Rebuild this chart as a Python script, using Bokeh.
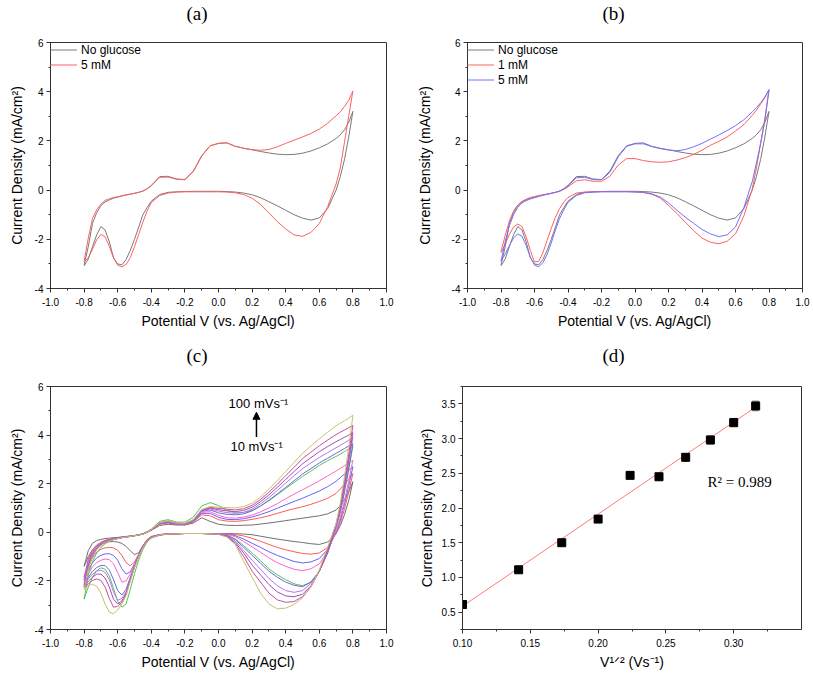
import numpy as np
from bokeh.plotting import figure
from bokeh.layouts import column, row
from bokeh.models import (SingleIntervalTicker, NumeralTickFormatter, Legend, LegendItem, LinearAxis, Title,
                          FixedTicker, CustomJSTickFormatter, Label, Arrow, NormalHead, Whisker,
                          ColumnDataSource, TeeHead, Range1d)
from bokeh.embed import file_html
from bokeh.resources import INLINE

# ---------------- data ----------------
potential = [-0.8, -0.775, -0.75, -0.725, -0.7, -0.675, -0.65, -0.625, -0.6, -0.575, -0.55, -0.525,
             -0.5, -0.475, -0.45, -0.425, -0.4, -0.35, -0.3, -0.25, -0.2, -0.15, -0.1, -0.05, 0.0,
             0.05, 0.1, 0.15, 0.2, 0.25, 0.3, 0.35, 0.4, 0.45, 0.5, 0.55, 0.6, 0.65, 0.7, 0.725,
             0.75, 0.775, 0.8]

# panels (a)/(b): forward (anodic) and reverse (cathodic) sweep currents on the potential grid
noglu_fwd = [-3.05, -2.30, -1.35, -0.92, -0.63, -0.48, -0.40, -0.33, -0.29, -0.24, -0.20, -0.17, -0.13, -0.09, -0.04, 0.06, 0.19,
             0.55, 0.56, 0.45, 0.43, 0.77, 1.40, 1.80, 1.90,
             1.92, 1.78, 1.70, 1.64, 1.57, 1.51, 1.46, 1.44, 1.45, 1.50, 1.59, 1.72, 1.88, 2.10, 2.25, 2.45, 2.75, 3.20]
noglu_rev = [-3.08, -2.80, -2.30, -1.82, -1.48, -1.62, -2.10, -2.75, -3.00, -3.04, -2.82, -2.45, -2.00, -1.50, -1.00, -0.71, -0.45,
             -0.18, -0.09, -0.07, -0.06, -0.05, -0.05, -0.05, -0.05,
             -0.06, -0.08, -0.12, -0.19, -0.31, -0.47, -0.64, -0.82, -1.00, -1.14, -1.22, -1.13, -0.75, 0.00, 0.55, 1.25, 2.15, 3.20]
a5_fwd = [-2.90, -1.95, -1.15, -0.80, -0.57, -0.42, -0.35, -0.30, -0.27, -0.23, -0.19, -0.16, -0.13, -0.09, -0.04, 0.05, 0.17,
          0.52, 0.53, 0.44, 0.42, 0.75, 1.38, 1.80, 1.90,
          1.92, 1.78, 1.70, 1.64, 1.62, 1.65, 1.76, 1.90, 2.03, 2.16, 2.30, 2.48, 2.72, 3.02, 3.18, 3.40, 3.65, 4.03]
a5_rev = [-2.92, -2.75, -2.40, -2.02, -1.80, -1.90, -2.28, -2.75, -3.05, -3.12, -3.02, -2.75, -2.30, -1.80, -1.30, -0.85, -0.50,
          -0.22, -0.12, -0.08, -0.07, -0.07, -0.07, -0.07, -0.07,
          -0.08, -0.11, -0.18, -0.33, -0.58, -0.93, -1.28, -1.58, -1.82, -1.88, -1.72, -1.36, -0.67, 0.25, 0.90, 1.95, 3.00, 4.03]
b1_fwd = [-2.50, -1.85, -1.25, -0.85, -0.60, -0.46, -0.37, -0.30, -0.26, -0.22, -0.19, -0.16, -0.13, -0.09, -0.05, 0.03, 0.13,
          0.38, 0.42, 0.36, 0.36, 0.56, 1.02, 1.28, 1.28,
          1.20, 1.15, 1.13, 1.15, 1.22, 1.32, 1.45, 1.62, 1.82, 1.98, 2.16, 2.40, 2.66, 3.04, 3.25, 3.50, 3.75, 4.08]
b1_rev = [-2.55, -2.20, -1.80, -1.50, -1.38, -1.48, -1.90, -2.45, -2.92, -2.90, -2.55, -2.05, -1.55, -1.10, -0.75, -0.48, -0.30,
          -0.12, -0.08, -0.07, -0.06, -0.06, -0.06, -0.06, -0.07,
          -0.10, -0.17, -0.32, -0.62, -0.95, -1.30, -1.65, -1.95, -2.12, -2.18, -2.08, -1.78, -1.05, 0.05, 0.90, 1.90, 2.90, 4.08]
b5_fwd = [-2.89, -2.10, -1.45, -1.00, -0.70, -0.52, -0.43, -0.36, -0.31, -0.26, -0.21, -0.17, -0.13, -0.09, -0.04, 0.05, 0.17,
          0.50, 0.52, 0.43, 0.42, 0.72, 1.35, 1.78, 1.88,
          1.88, 1.77, 1.69, 1.63, 1.60, 1.65, 1.76, 1.90, 2.07, 2.24, 2.42, 2.62, 2.86, 3.18, 3.35, 3.55, 3.78, 4.08]
b5_rev = [-2.89, -2.60, -2.25, -1.95, -1.78, -1.88, -2.25, -2.72, -3.05, -3.12, -2.95, -2.62, -2.15, -1.62, -1.15, -0.80, -0.50,
          -0.22, -0.11, -0.08, -0.07, -0.07, -0.07, -0.07, -0.08,
          -0.09, -0.15, -0.28, -0.52, -0.82, -1.10, -1.35, -1.60, -1.78, -1.89, -1.82, -1.50, -0.71, 0.35, 1.10, 1.90, 2.80, 4.08]

# panel (c): scan rates 10..100 mV/s
scan_rates = [10, 20, 30, 40, 50, 60, 70, 80, 90, 100]
c10_fwd = [-1.40, -0.75, -0.45, -0.34, -0.29, -0.26, -0.24, -0.22, -0.21, -0.19, -0.17, -0.15, -0.13, -0.10, -0.06, 0.00, 0.08,
           0.28, 0.33, 0.30, 0.30, 0.38, 0.60, 0.45, 0.33, 0.29,
           0.28, 0.29, 0.30, 0.34, 0.38, 0.43, 0.48, 0.53, 0.58, 0.63, 0.68, 0.76, 0.92, 1.10, 1.35, 1.65, 2.08]
c10_rev = [-1.40, -1.00, -0.72, -0.56, -0.47, -0.42, -0.39, -0.38, -0.40, -0.46, -0.58, -0.76, -0.92, -0.84, -0.55, -0.30, -0.17,
           -0.09, -0.06, -0.05, -0.05, -0.05, -0.05, -0.05, -0.05,
           -0.05, -0.06, -0.07, -0.10, -0.16, -0.22, -0.28, -0.33, -0.38, -0.42, -0.47, -0.50, -0.40, -0.05, 0.28, 0.72, 1.30, 2.08]
c20_fwd = [-1.85, -1.10, -0.72, -0.52, -0.40, -0.33, -0.28, -0.25, -0.23, -0.20, -0.18, -0.16, -0.14, -0.11, -0.07, 0.00, 0.09,
           0.33, 0.38, 0.32, 0.31, 0.42, 0.72, 0.68, 0.52, 0.46,
           0.45, 0.48, 0.53, 0.60, 0.68, 0.78, 0.88, 0.97, 1.05, 1.15, 1.27, 1.40, 1.60, 1.78, 1.98, 2.18, 2.42]
c20_rev = [-1.85, -1.40, -1.05, -0.82, -0.70, -0.64, -0.62, -0.64, -0.74, -0.95, -1.25, -1.38, -1.22, -0.90, -0.55, -0.32, -0.19,
           -0.10, -0.07, -0.06, -0.05, -0.05, -0.05, -0.05, -0.05,
           -0.06, -0.09, -0.15, -0.25, -0.37, -0.50, -0.62, -0.72, -0.80, -0.87, -0.90, -0.85, -0.62, -0.05, 0.40, 0.95, 1.65, 2.42]
c30_fwd = [-1.95, -1.20, -0.80, -0.58, -0.45, -0.36, -0.30, -0.26, -0.23, -0.21, -0.18, -0.16, -0.14, -0.11, -0.07, 0.00, 0.09,
           0.35, 0.40, 0.33, 0.32, 0.44, 0.78, 0.78, 0.62, 0.53,
           0.52, 0.56, 0.63, 0.73, 0.85, 0.99, 1.13, 1.27, 1.40, 1.55, 1.70, 1.88, 2.10, 2.25, 2.40, 2.55, 2.70]
c30_rev = [-1.95, -1.55, -1.25, -1.05, -0.95, -0.89, -0.88, -0.95, -1.15, -1.50, -1.72, -1.62, -1.30, -0.92, -0.57, -0.33, -0.20,
           -0.10, -0.07, -0.06, -0.05, -0.05, -0.05, -0.05, -0.06,
           -0.07, -0.14, -0.28, -0.45, -0.62, -0.80, -0.95, -1.08, -1.20, -1.26, -1.22, -1.08, -0.70, 0.00, 0.50, 1.15, 1.90, 2.70]
c40_fwd = [-2.05, -1.28, -0.86, -0.62, -0.48, -0.38, -0.31, -0.27, -0.24, -0.21, -0.19, -0.17, -0.14, -0.11, -0.07, 0.00, 0.10,
           0.36, 0.41, 0.34, 0.33, 0.46, 0.82, 0.85, 0.70, 0.60,
           0.58, 0.63, 0.71, 0.84, 1.00, 1.18, 1.38, 1.57, 1.75, 1.93, 2.12, 2.32, 2.52, 2.63, 2.74, 2.85, 2.97]
c40_rev = [-2.05, -1.70, -1.42, -1.25, -1.15, -1.10, -1.12, -1.30, -1.65, -2.05, -2.00, -1.70, -1.32, -0.94, -0.58, -0.34, -0.20,
           -0.10, -0.07, -0.06, -0.05, -0.05, -0.05, -0.06, -0.06,
           -0.08, -0.18, -0.38, -0.60, -0.82, -1.05, -1.25, -1.40, -1.52, -1.58, -1.50, -1.30, -0.80, 0.05, 0.60, 1.30, 2.10, 2.97]
c50_fwd = [-2.75, -1.75, -1.20, -0.85, -0.62, -0.47, -0.37, -0.30, -0.26, -0.22, -0.19, -0.16, -0.13, -0.10, -0.05, 0.03, 0.13,
           0.45, 0.52, 0.42, 0.42, 0.62, 1.08, 1.22, 1.10, 0.92,
           0.80, 0.82, 0.90, 1.08, 1.30, 1.55, 1.80, 2.05, 2.30, 2.52, 2.75, 2.95, 3.12, 3.22, 3.32, 3.43, 3.55]
c50_rev = [-2.75, -2.25, -1.85, -1.58, -1.46, -1.52, -1.80, -2.30, -2.85, -3.08, -2.95, -2.35, -1.70, -1.15, -0.70, -0.40, -0.24,
           -0.12, -0.08, -0.06, -0.05, -0.05, -0.05, -0.06, -0.07,
           -0.11, -0.27, -0.55, -0.85, -1.17, -1.50, -1.75, -1.95, -2.12, -2.20, -2.05, -1.60, -0.85, 0.20, 0.80, 1.65, 2.55, 3.55]
c60_fwd = [-2.15, -1.35, -0.90, -0.65, -0.50, -0.40, -0.33, -0.28, -0.24, -0.21, -0.19, -0.17, -0.14, -0.11, -0.07, 0.00, 0.10,
           0.37, 0.43, 0.35, 0.34, 0.48, 0.86, 0.92, 0.80, 0.74,
           0.72, 0.76, 0.88, 1.08, 1.32, 1.58, 1.85, 2.12, 2.40, 2.62, 2.85, 3.05, 3.25, 3.35, 3.45, 3.55, 3.65]
c60_rev = [-2.15, -1.85, -1.60, -1.45, -1.36, -1.37, -1.55, -1.95, -2.40, -2.58, -2.35, -1.85, -1.38, -0.96, -0.59, -0.35, -0.21,
           -0.10, -0.07, -0.06, -0.05, -0.05, -0.05, -0.06, -0.07,
           -0.12, -0.30, -0.62, -0.95, -1.27, -1.60, -1.85, -2.05, -2.18, -2.24, -2.05, -1.60, -0.85, 0.20, 0.85, 1.70, 2.65, 3.65]
c70_fwd = [-2.20, -1.40, -0.93, -0.67, -0.51, -0.41, -0.34, -0.29, -0.25, -0.22, -0.19, -0.17, -0.14, -0.11, -0.07, 0.00, 0.10,
           0.38, 0.44, 0.36, 0.35, 0.49, 0.88, 0.96, 0.87, 0.81,
           0.78, 0.82, 0.95, 1.17, 1.43, 1.72, 2.02, 2.33, 2.62, 2.85, 3.08, 3.28, 3.48, 3.58, 3.68, 3.79, 3.90]
c70_rev = [-2.20, -1.92, -1.72, -1.60, -1.56, -1.65, -1.95, -2.45, -2.80, -2.72, -2.45, -1.92, -1.40, -0.97, -0.60, -0.35, -0.21,
           -0.10, -0.07, -0.06, -0.05, -0.05, -0.05, -0.06, -0.07,
           -0.14, -0.36, -0.75, -1.15, -1.52, -1.90, -2.20, -2.40, -2.47, -2.40, -2.10, -1.60, -0.80, 0.25, 0.95, 1.85, 2.85, 3.90]
c80_fwd = [-2.25, -1.45, -0.96, -0.69, -0.52, -0.42, -0.35, -0.29, -0.25, -0.22, -0.19, -0.17, -0.14, -0.11, -0.07, 0.00, 0.10,
           0.38, 0.45, 0.37, 0.36, 0.50, 0.90, 1.00, 0.93, 0.88,
           0.85, 0.90, 1.03, 1.26, 1.54, 1.85, 2.18, 2.50, 2.82, 3.07, 3.32, 3.53, 3.73, 3.82, 3.91, 4.00, 4.10]
c80_rev = [-2.25, -2.02, -1.85, -1.72, -1.72, -1.88, -2.25, -2.75, -2.95, -2.82, -2.50, -1.95, -1.42, -0.98, -0.61, -0.36, -0.22,
           -0.11, -0.07, -0.06, -0.05, -0.05, -0.05, -0.06, -0.08,
           -0.16, -0.42, -0.85, -1.35, -1.75, -2.15, -2.45, -2.62, -2.65, -2.55, -2.20, -1.60, -0.75, 0.30, 1.00, 1.95, 3.00, 4.10]
c90_fwd = [-2.30, -1.48, -0.98, -0.70, -0.53, -0.42, -0.35, -0.30, -0.26, -0.22, -0.20, -0.17, -0.14, -0.11, -0.07, 0.00, 0.10,
           0.39, 0.46, 0.37, 0.36, 0.51, 0.92, 1.03, 0.98, 0.95,
           0.92, 0.97, 1.11, 1.35, 1.65, 1.98, 2.33, 2.68, 3.03, 3.30, 3.56, 3.80, 4.02, 4.12, 4.21, 4.30, 4.40]
c90_rev = [-2.30, -2.12, -1.98, -1.92, -1.98, -2.25, -2.72, -3.08, -3.05, -2.88, -2.55, -1.98, -1.44, -0.99, -0.62, -0.36, -0.22,
           -0.11, -0.07, -0.06, -0.05, -0.05, -0.05, -0.06, -0.08,
           -0.18, -0.48, -1.00, -1.60, -2.05, -2.50, -2.78, -2.88, -2.85, -2.65, -2.25, -1.60, -0.70, 0.35, 1.10, 2.10, 3.20, 4.40]
c100_fwd = [-2.35, -1.50, -1.00, -0.72, -0.54, -0.43, -0.36, -0.30, -0.26, -0.22, -0.20, -0.17, -0.14, -0.11, -0.07, 0.00, 0.10,
            0.40, 0.47, 0.38, 0.37, 0.52, 0.94, 1.06, 1.03, 1.02,
            1.00, 1.06, 1.20, 1.45, 1.78, 2.13, 2.50, 2.88, 3.25, 3.55, 3.85, 4.12, 4.38, 4.49, 4.59, 4.70, 4.82]
c100_rev = [-2.35, -2.20, -2.14, -2.22, -2.50, -2.95, -3.28, -3.35, -3.20, -2.95, -2.60, -2.02, -1.46, -1.00, -0.63, -0.37, -0.23,
            -0.11, -0.07, -0.06, -0.05, -0.05, -0.05, -0.06, -0.08,
            -0.20, -0.50, -1.20, -1.85, -2.50, -2.95, -3.15, -3.12, -2.97, -2.70, -2.25, -1.55, -0.60, 0.35, 1.20, 2.30, 3.50, 4.80]
c_fwd = [c10_fwd, c20_fwd, c30_fwd, c40_fwd, c50_fwd, c60_fwd, c70_fwd, c80_fwd, c90_fwd, c100_fwd]
c_rev = [c10_rev, c20_rev, c30_rev, c40_rev, c50_rev, c60_rev, c70_rev, c80_rev, c90_rev, c100_rev]
c_colors = ["#707070", "#ff5a5a", "#6464ff", "#ff64c8", "#5ac05a", "#6a6ae0", "#b478e6", "#a050b4", "#c8509a", "#c8c070"]

# panel (d)
sqrt_scan = [0.1, 0.1414, 0.1732, 0.2, 0.2236, 0.2449, 0.2646, 0.2828, 0.3, 0.3162]
peak_current = [0.61, 1.11, 1.50, 1.84, 2.47, 2.45, 2.73, 2.98, 3.23, 3.47]
peak_err = [0.03, 0.03, 0.03, 0.04, 0.04, 0.05, 0.05, 0.06, 0.06, 0.07]

SANS = "Liberation Sans"
SERIF = "Liberation Serif"
YLAB = "Current Density (mA/cm\u00b2)"
XLAB = "Potential V (vs. Ag/AgCl)"


def loop(fwd, rev):
    xs = list(potential) + list(potential[::-1])
    ys = list(fwd) + list(rev[::-1])
    return xs, ys


def make_fig(title, title_offset, spacer, width, height, xr, yr, borders, ylab_standoff,
             xint, yint, xfmt, yfmt, xlabel):
    l, r, t, b = borders
    p = figure(width=width, height=height, x_range=Range1d(*xr), y_range=Range1d(*yr),
               output_backend="svg", toolbar_location=None,
               min_border_left=l, min_border_right=r, min_border_top=t, min_border_bottom=b)
    # invisible spacer axis between the frame and the panel title
    sp = LinearAxis(ticker=FixedTicker(ticks=[(xr[0] + xr[1]) / 2], minor_ticks=[]),
                    formatter=CustomJSTickFormatter(code="return ''"),
                    axis_line_color=None, major_tick_line_color=None, minor_tick_line_color=None,
                    major_tick_out=spacer, major_tick_in=0, minor_tick_out=0, minor_tick_in=0,
                    major_label_standoff=0, major_label_text_font_size="1px")
    p.add_layout(sp, "above")
    p.add_layout(Title(text=title, align="left", offset=title_offset, standoff=0,
                       text_font=SERIF, text_font_size="19px", text_font_style="normal",
                       text_color="black"), "above")
    p.grid.visible = False
    p.outline_line_color = "#333333"
    p.outline_line_width = 1
    p.background_fill_color = "white"
    p.border_fill_color = "white"
    xa, ya = p.below[0], p.left[0]
    xa.ticker = SingleIntervalTicker(interval=xint, num_minor_ticks=2)
    ya.ticker = SingleIntervalTicker(interval=yint, num_minor_ticks=2)
    xa.formatter = NumeralTickFormatter(format=xfmt)
    ya.formatter = NumeralTickFormatter(format=yfmt)
    xa.axis_label = xlabel
    ya.axis_label = YLAB
    for ax in (xa, ya):
        ax.axis_line_color = "#333333"
        ax.major_tick_line_color = "#333333"
        ax.minor_tick_line_color = "#333333"
        ax.major_tick_out = 4
        ax.major_tick_in = 0
        ax.minor_tick_out = 2
        ax.minor_tick_in = 0
        ax.major_label_text_font = SANS
        ax.major_label_text_font_size = "10px"
        ax.major_label_text_color = "black"
        ax.axis_label_text_font = SANS
        ax.axis_label_text_font_size = "14px"
        ax.axis_label_text_font_style = "normal"
        ax.axis_label_text_color = "black"
    xa.major_label_standoff = 5
    xa.axis_label_standoff = 4
    ya.major_label_standoff = 3
    ya.axis_label_standoff = ylab_standoff
    return p


def add_legend(p, items):
    lg = Legend(items=items, location="top_left")
    lg.border_line_color = None
    lg.background_fill_alpha = 0
    lg.label_text_font = SANS
    lg.label_text_font_size = "12px"
    lg.label_text_color = "black"
    lg.glyph_width = 27
    lg.glyph_height = 15
    lg.label_height = 15
    lg.spacing = 0
    lg.padding = 7
    lg.margin = 0
    lg.label_standoff = 4
    p.add_layout(lg)


# ---------------- (a) ----------------
pa = make_fig("(a)", 136, 19, 408, 333, (-1, 1), (-4, 6), (50, 22, 42, 45), 7, 0.2, 2, "0.0", "0", XLAB)
xs, ys = loop(noglu_fwd, noglu_rev)
ra1 = pa.line(xs, ys, line_color="#7a7a7a", line_width=1)
xs, ys = loop(a5_fwd, a5_rev)
ra2 = pa.line(xs, ys, line_color="#ff6060", line_width=1)
add_legend(pa, [LegendItem(label="No glucose", renderers=[ra1]),
                LegendItem(label="5 mM", renderers=[ra2])])

# ---------------- (b) ----------------
pb = make_fig("(b)", 135, 19, 405, 333, (-1, 1), (-4, 6), (59, 11, 42, 45), 16, 0.2, 2, "0.0", "0", XLAB)
xs, ys = loop(noglu_fwd, noglu_rev)
rb1 = pb.line(xs, ys, line_color="#7a7a7a", line_width=1)
xs, ys = loop(b1_fwd, b1_rev)
rb2 = pb.line(xs, ys, line_color="#ff6060", line_width=1)
xs, ys = loop(b5_fwd, b5_rev)
rb3 = pb.line(xs, ys, line_color="#7070ff", line_width=1)
add_legend(pb, [LegendItem(label="No glucose", renderers=[rb1]),
                LegendItem(label="1 mM", renderers=[rb2]),
                LegendItem(label="5 mM", renderers=[rb3])])

# ---------------- (c) ----------------
pc = make_fig("(c)", 136, 21, 408, 343, (-1, 1), (-4, 6), (50, 22, 53, 46), 7, 0.2, 2, "0.0", "0", XLAB)
for fwd, rev, col in zip(c_fwd, c_rev, c_colors):
    xs, ys = loop(fwd, rev)
    pc.line(xs, ys, line_color=col, line_width=1)
pc.add_layout(Label(x=0.06, y=5.3, text="100 mVs\u207b\u00b9", text_font=SANS,
                    text_font_size="13px", text_baseline="middle", text_color="black"))
pc.add_layout(Label(x=0.071, y=3.55, text="10 mVs\u207b\u00b9", text_font=SANS,
                    text_font_size="13px", text_baseline="middle", text_color="black"))
pc.add_layout(Arrow(x_start=0.226, y_start=3.92, x_end=0.226, y_end=4.94, line_width=1.5,
                    line_color="black",
                    end=NormalHead(size=7, fill_color="black", line_color="black")))

# ---------------- (d) ----------------
pd = make_fig("(d)", 140, 21, 405, 343, (0.10, 0.35), (0.25, 3.75), (54, 12, 53, 47), 4, 0.05, 0.5,
              "0.00", "0.0", "V\u00b9\u141f\u00b2 (Vs\u207b\u00b9)")
slope, intercept = np.polyfit(sqrt_scan, peak_current, 1)
fit_x = [sqrt_scan[0], sqrt_scan[-1]]
fit_y = [slope * v + intercept for v in fit_x]
pd.line(fit_x, fit_y, line_color="#ff7a7a", line_width=1)
src = ColumnDataSource(dict(x=sqrt_scan, y=peak_current,
                            upper=[v + e for v, e in zip(peak_current, peak_err)],
                            lower=[v - e for v, e in zip(peak_current, peak_err)]))
pd.add_layout(Whisker(source=src, base="x", upper="upper", lower="lower", line_color="#8a8a8a",
                      upper_head=TeeHead(size=7, line_color="#8a8a8a"),
                      lower_head=TeeHead(size=7, line_color="#8a8a8a")))
pd.scatter("x", "y", source=src, marker="square", size=8, fill_color="black", line_color="black")
pd.add_layout(Label(x=0.2807, y=2.38, text="R\u00b2 = 0.989", text_font=SERIF,
                    text_font_size="15px", text_baseline="middle", text_color="black"))

layout = column(row(pa, pb), row(pc, pd))
open("out.html", "w").write(file_html(layout, INLINE))
